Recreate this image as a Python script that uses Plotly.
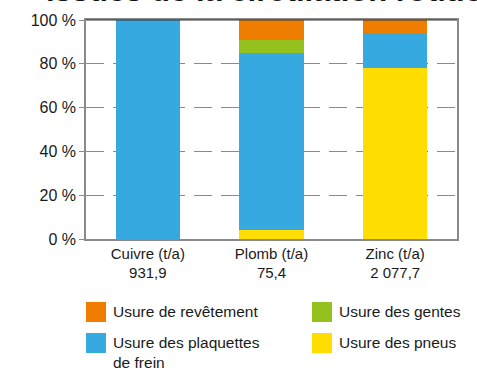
import plotly.graph_objects as go

# Metals and their annual totals (t/a)
metals = ["Cuivre (t/a)", "Plomb (t/a)", "Zinc (t/a)"]
totals = ["931,9", "75,4", "2 077,7"]

# Share of each wear source, in percent (stacked bottom to top)
pneus = [0, 4, 78]
plaquettes = [100, 81, 16]
gentes = [0, 6, 0]
revetement = [0, 9, 6]

series_names = [
    "Usure des pneus",
    "Usure des plaquettes<br>de frein",
    "Usure des gentes",
    "Usure de revêtement",
]
series_values = [pneus, plaquettes, gentes, revetement]
series_colors = ["#FFDD00", "#36A9E1", "#95C11F", "#EF7D00"]

y_ticks = [0, 20, 40, 60, 80, 100]

W, H = 477, 370
L, R, T, B = 86, 20, 20, 131
PW, PH = W - L - R, H - T - B

FONT = "Liberation Sans, Arial, sans-serif"

categories = [f"{m}<br>{t}" for m, t in zip(metals, totals)]

fig = go.Figure()
for name, vals, col in zip(series_names, series_values, series_colors):
    fig.add_trace(go.Bar(
        x=categories, y=vals, name=name,
        marker=dict(color=col, line=dict(width=0)),
        width=0.52, showlegend=False,
    ))


def px_x(px):
    return (px - L) / PW


def px_y(py):
    return (T + PH - py) / PH


shapes = []
annotations = []

# Legend laid out in two columns with large square swatches
legend_order = [3, 2, 1, 0]
legend_pos = [(86, 302), (312, 302), (86, 333), (312, 333)]
for idx, (sx, sy) in zip(legend_order, legend_pos):
    shapes.append(dict(
        type="rect", xref="paper", yref="paper",
        x0=px_x(sx), x1=px_x(sx + 20), y0=px_y(sy + 20), y1=px_y(sy),
        fillcolor=series_colors[idx], line=dict(width=0),
    ))
    annotations.append(dict(
        text=series_names[idx], xref="paper", yref="paper",
        x=px_x(sx + 25), y=px_y(sy - 1), xanchor="left", yanchor="top",
        align="left", showarrow=False,
        font=dict(family=FONT, size=15.5, color="#1a1a1a"),
    ))

# Top border of the plot frame
shapes.append(dict(
    type="line", xref="paper", yref="paper", x0=0, x1=1, y0=1, y1=1,
    line=dict(color="#333333", width=1),
))

# Title, partly above the visible page
annotations.append(dict(
    text="<b>issues de la circulation routière</b>", xref="paper", yref="paper",
    x=px_x(44), y=px_y(10), xanchor="left", yanchor="bottom",
    showarrow=False, font=dict(family=FONT, size=31, color="#111111"),
))

fig.update_layout(
    width=W, height=H,
    margin=dict(l=L, r=R, t=T, b=B, pad=0),
    paper_bgcolor="white", plot_bgcolor="white",
    barmode="stack", bargap=0.48,
    font=dict(family=FONT, color="#1a1a1a"),
    shapes=shapes, annotations=annotations,
    showlegend=False,
)
fig.update_xaxes(
    range=[-0.5, 2.5], showgrid=False,
    showline=True, linecolor="#8a8a8a", linewidth=1.5, mirror=True,
    ticks="", tickfont=dict(family=FONT, size=15, color="#1a1a1a"),
)
fig.update_yaxes(
    range=[0, 100], tickvals=y_ticks, ticktext=[f"{v} %" for v in y_ticks],
    showgrid=True, gridcolor="#8a8a8a", gridwidth=1.2, griddash="18px,9px",
    showline=True, linecolor="#8a8a8a", linewidth=1.5, mirror=True,
    ticks="outside", ticklen=5, tickcolor="#8a8a8a", tickwidth=1.2,
    tickfont=dict(family=FONT, size=16, color="#1a1a1a"),
    zeroline=False,
)

fig.write_html("out.html")
